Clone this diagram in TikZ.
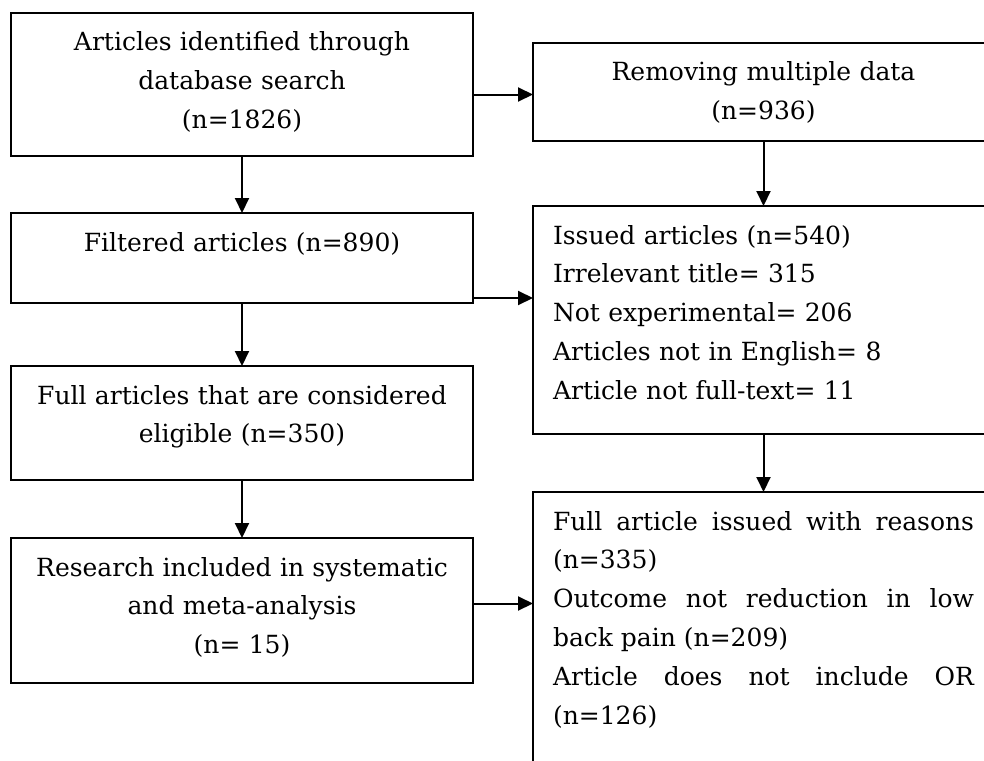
\documentclass[tikz,border=0pt]{standalone}
\usepackage{fontspec}
\setmainfont{DejaVu Serif}
\usetikzlibrary{arrows.meta}
\setlength{\parindent}{0pt}
\begin{document}
\begin{tikzpicture}[x=1pt, y=-1pt, line width=2pt, >={Triangle[length=15pt,width=14pt]},
flow box/.style={draw, anchor=north west, outer sep=0pt, inner ysep=0pt, text height=38pt, font=\fontsize{25}{38.8}\selectfont},
left box/.style={flow box, inner xsep=10pt, text width=442pt, align=center},
right box/.style={flow box, inner xsep=20pt, text width=421pt, align=left}]
\clip (0,0) rectangle (984,760);
\begin{scope}
\node[left box, text depth=105pt] (ident) at (11,13) {Articles identified through\\ database search\\ (n=1826)};
\node[right box, align=center, text depth=60pt] (remove) at (533,43) {Removing multiple data\\ (n=936)};
\node[left box, text depth=52pt] (filt) at (11,213) {Filtered articles (n=890)};
\node[right box, text depth=190pt] (issued) at (533,206) {Issued articles (n=540)\\ Irrelevant title= 315\\ Not experimental= 206\\ Articles not in English= 8\\ Article not full-text= 11};
\node[left box, text depth=76pt] (elig) at (11,366) {Full articles that are considered\\ eligible (n=350)};
\node[left box, text depth=107pt] (incl) at (11,538) {Research included in systematic\\ and meta-analysis\\ (n= 15)};
\node[right box, align=justify, text depth=300pt] (reason) at (533,492) {Full article issued with reasons\linebreak (n=335)\\ Outcome not reduction in low\linebreak back pain (n=209)\\ Article does not include OR\linebreak (n=126)};
\end{scope}
\coordinate (a2b) at ([yshift=-10pt]ident.east);
\coordinate (c2d) at ([yshift=5pt]filt.south east);
\coordinate (f2g) at ([yshift=7pt]incl.east);
\begin{scope}[->]
\draw (ident.south) -- (filt.north);
\draw (filt.south) -- (elig.north);
\draw (elig.south) -- (incl.north);
\draw (remove.south) -- (issued.north);
\draw (issued.south) -- (reason.north);
\draw (a2b) -- (a2b -| remove.west);
\draw (c2d) -- (c2d -| issued.west);
\draw (f2g) -- (f2g -| reason.west);
\end{scope}
\end{tikzpicture}
\end{document}
